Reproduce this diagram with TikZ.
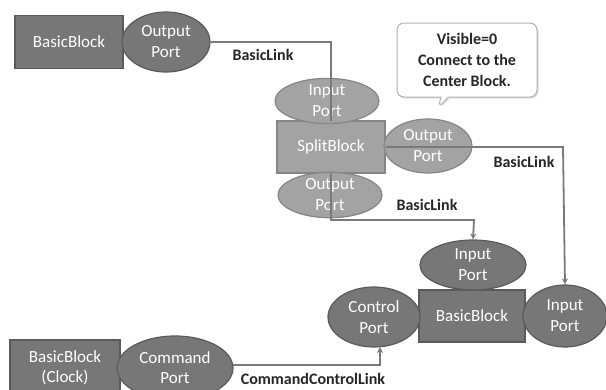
\documentclass[tikz,border=0pt]{standalone}
\usepackage{fontspec}
\setmainfont{Carlito}
\usetikzlibrary{shapes.geometric,shapes.callouts,arrows.meta,shadows}
\definecolor{blk}{HTML}{777777}
\definecolor{blkedge}{HTML}{5A5A5A}
\definecolor{spl}{HTML}{A3A3A3}
\definecolor{spledge}{HTML}{858585}
\definecolor{lnk}{HTML}{7A7A7A}
\begin{document}
\begin{tikzpicture}[x=1pt,y=-1pt,
  txt/.style={font=\fontsize{17}{21}\selectfont, text=white, align=center},
  blockbox/.style={txt, draw=blkedge, fill=blk, line width=1.2pt, inner sep=0pt},
  portell/.style={txt, ellipse, draw=blkedge, fill=blk, line width=1.2pt, inner sep=0pt},
  splitbox/.style={txt, draw=spledge, fill=spl, line width=1.2pt, inner sep=0pt},
  splitell/.style={txt, ellipse, draw=spledge, fill=spl, line width=1.2pt, inner sep=0pt},
  link/.style={draw=lnk, line width=1.8pt},
  linkarr/.style={link, -{Stealth[length=6pt,width=6pt]}},
  lbl/.style={font=\bfseries\fontsize{16}{19}\selectfont, text=black!85}
]
\useasboundingbox (0,0) rectangle (606,389);
\clip (0,0) rectangle (606,389);
\fill[white] (0,0) rectangle (606,389);

% top-left basic block
\node[blockbox, minimum width=108pt, minimum height=53pt] (bb1) at (69,42) {BasicBlock};
\node[portell, minimum width=88pt, minimum height=60pt] (op1) at (166,42) {Output\\Port};

% split block
\node[splitbox, minimum width=108pt, minimum height=52pt] (sb) at (331,147) {SplitBlock};
\node[splitell, minimum width=104pt, minimum height=38pt] (sip) at (327,101) {Input\\Port};
\node[splitell, minimum width=104pt, minimum height=40pt] (sop2) at (330,195) {Output\\Port};
\node[splitell, minimum width=88pt, minimum height=54pt] (sop1) at (428,146) {Output\\Port};

% center basic block
\node[blockbox, minimum width=106pt, minimum height=52pt] (bb2) at (472,316) {BasicBlock};
\node[portell, minimum width=106pt, minimum height=50pt] (ipt) at (473,265) {Input\\Port};
\node[portell, minimum width=92pt, minimum height=60pt] (cp) at (374,317) {Control\\Port};
\node[portell, minimum width=84pt, minimum height=62pt] (ipr) at (565,316) {Input\\Port};

% clock block
\node[blockbox, minimum width=110pt, minimum height=56pt, font=\fontsize{17}{20}\selectfont] (bb3) at (65,368) {BasicBlock\\(Clock)};
\node[portell, minimum width=116pt, minimum height=64pt, font=\fontsize{17}{20}\selectfont] (cmd) at (175,368) {Command\\Port};

% callout
\node[rectangle callout, callout absolute pointer={(438,108)}, rounded corners=7pt,
      draw=black!30, fill=white, line width=1pt, minimum width=140pt, minimum height=74pt,
      drop shadow={opacity=0.25, shadow xshift=1.5pt, shadow yshift=-1.5pt},
      font=\bfseries\fontsize{16}{21}\selectfont, text=black!85, align=center, inner sep=0pt]
      (call) at (467,60) {Visible=0\\Connect to the\\Center Block.};

% links
\coordinate (c1) at (331,42);
\coordinate (c1e) at (331,121);
\draw[link] (op1.east) -- (c1) -- (c1e);
\node[lbl] (l1) at (263,55) {BasicLink};

\coordinate (c2) at (563,147);
\draw[linkarr] (sb.east) -- (c2) -- (ipr.north);
\node[lbl] (l2) at (524,162) {BasicLink};

\coordinate (c3a) at (331,220);
\coordinate (c3b) at (474,220);
\draw[linkarr] (sb.south) -- (c3a) -- (c3b) -- (ipt.north);
\node[lbl] (l3) at (427,205) {BasicLink};

\coordinate (c4a) at (233,365);
\coordinate (c4b) at (380,365);
\coordinate (c4c) at (380,347);
\draw[linkarr] (c4a) -- (c4b) -- (c4c);
\node[lbl] (l4) at (313,379) {CommandControlLink};
\end{tikzpicture}
\end{document}
